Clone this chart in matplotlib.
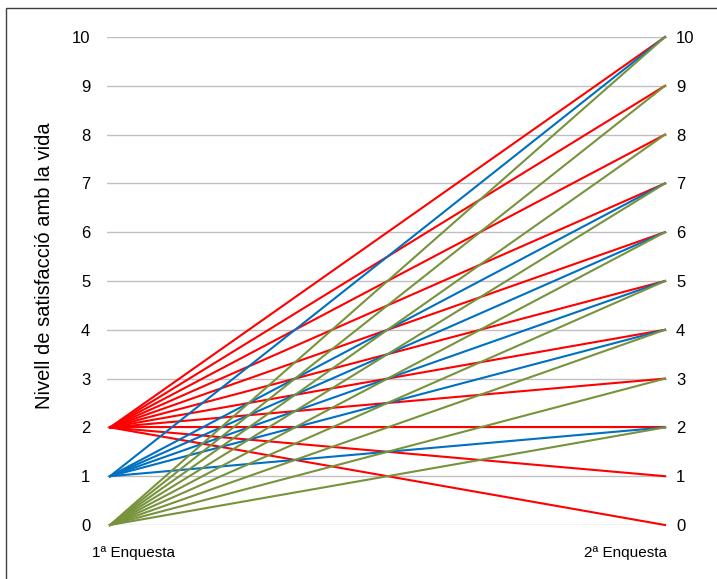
import matplotlib.pyplot as plt
from matplotlib.patches import Rectangle
from matplotlib.transforms import blended_transform_factory

plt.rcParams['font.family'] = ['Liberation Sans', 'DejaVu Sans']

# dades: valor a la 1a enquesta -> valors a la 2a enquesta
inici = {'verd': 0, 'blau': 1, 'vermell': 2}
final_verd = [10, 9, 8, 7, 6, 5, 4, 3, 2]
final_blau = [10, 7, 6, 5, 4, 2]
final_vermell = [10, 9, 8, 7, 6, 5, 4, 3, 2, 1, 0]
finals = {'verd': final_verd, 'blau': final_blau, 'vermell': final_vermell}
colors = {'verd': '#77933C', 'blau': '#0070C0', 'vermell': '#FF0000'}
etiquetes_x = ['1ª Enquesta', '2ª Enquesta']
nivells = list(range(0, 11))

fig = plt.figure(figsize=(7.17, 5.79), dpi=100)
fig.patches.append(Rectangle((6 / 717, -0.1), 1.2, 1 - 8 / 579 + 0.1,
                             transform=fig.transFigure, fill=False,
                             edgecolor='#404040', linewidth=1.0))
ax = fig.add_axes([107 / 717, 1 - 525 / 579, 560 / 717, 488 / 579])

for y in nivells:
    ax.axhline(y, color='#BFBFBF', linewidth=1.0, zorder=1)

# ordre de dibuix: vermell, blau, verd
for g in ['vermell', 'blau', 'verd']:
    for f in finals[g]:
        ax.plot([0, 1], [inici[g], f], color=colors[g], linewidth=1.5,
                clip_on=False, zorder=2)

ax.set_xlim(-0.0054, 1.0036)
ax.set_ylim(0, 10)
ax.set_yticks(nivells)
ax.tick_params(axis='y', length=0, labelsize=12, pad=12)
ax.set_xticks([])
for s in ax.spines.values():
    s.set_visible(False)

# eix de la dreta amb les mateixes etiquetes
ax2 = ax.twinx()
ax2.set_ylim(0, 10)
ax2.set_yticks(nivells)
ax2.tick_params(axis='y', length=0, labelsize=12, pad=6.5)
for s in ax2.spines.values():
    s.set_visible(False)

trans = blended_transform_factory(ax.transData, fig.transFigure)
ax.text(0.043, 1 - 553 / 579, etiquetes_x[0], transform=trans,
        ha='center', va='center', fontsize=11)
ax.text(0.928, 1 - 553 / 579, etiquetes_x[1], transform=trans,
        ha='center', va='center', fontsize=11)

fig.text(45 / 717, 1 - 266 / 579, 'Nivell de satisfacció amb la vida',
         rotation=90, ha='center', va='center', fontsize=14.5)

fig.savefig('out.png', dpi=100)
